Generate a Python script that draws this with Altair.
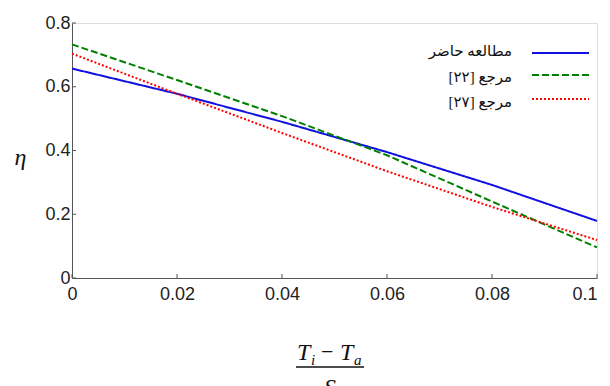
import altair as alt
import pandas as pd

# ---- data ----
x_vals = [0.0, 0.02, 0.04, 0.06, 0.08, 0.1]
present = [0.657, 0.578, 0.490, 0.395, 0.292, 0.179]   # مطالعه حاضر
ref22 = [0.733, 0.621, 0.508, 0.385, 0.240, 0.096]     # مرجع [۲۲]
ref27 = [0.704, 0.578, 0.455, 0.335, 0.223, 0.119]     # مرجع [۲۷]

series_names = ["مطالعه حاضر", "مرجع [۲۲]", "مرجع [۲۷]"]
series_colors = ["#1010e0", "#008000", "#ff0000"]
series_dash = [[1, 0], [7, 3], [2, 2]]

x_ticks = [0, 0.02, 0.04, 0.06, 0.08, 0.1]
y_ticks = [0, 0.2, 0.4, 0.6, 0.8]

W, H = 525, 255

rows = []
for name, ys in zip(series_names, [present, ref22, ref27]):
    for x, y in zip(x_vals, ys):
        rows.append({"x": x, "y": y, "s": name})
df = pd.DataFrame(rows)

xs = alt.Scale(domain=[0, 0.1], nice=False)
ys_ = alt.Scale(domain=[0, 0.8], nice=False)

base = alt.Chart(df)

x_axis = alt.Axis(
    values=x_ticks, format=".2~f", title=None, grid=False,
    tickSize=0, labelPadding=7, labelFontSize=18,
    labelFont="Liberation Sans", labelColor="#222",
    domainColor="#555", labelFlush=False,
    labelAlign={"condition": {"test": "datum.value >= 0.099", "value": "right"},
                "value": "center"},
)
y_axis = alt.Axis(
    values=y_ticks, format=".1~f", grid=False,
    tickSize=0, labelPadding=2, labelFontSize=18,
    labelFont="Liberation Sans", labelColor="#222",
    domainColor="#555", labelFlush=False,
    title="η", titleAngle=0, titleFont="Liberation Serif",
    titleFontStyle="italic", titleFontWeight="normal",
    titleFontSize=24, titleX=-52, titleY=134,
    titleAlign="center", titleBaseline="middle", titleColor="#111",
)

line_layers = []
for name, col, dash in zip(series_names, series_colors, series_dash):
    line_layers.append(
        base.transform_filter(alt.datum.s == name)
        .mark_line(color=col, strokeWidth=2, strokeDash=dash)
        .encode(
            x=alt.X("x:Q", scale=xs, axis=x_axis),
            y=alt.Y("y:Q", scale=ys_, axis=y_axis),
        )
    )

# inward ticks
xt = alt.Chart(pd.DataFrame({"t": x_ticks})).mark_rule(color="#555").encode(
    x=alt.X("t:Q", scale=xs), y=alt.value(H), y2=alt.value(H - 4))
yt = alt.Chart(pd.DataFrame({"t": y_ticks})).mark_rule(color="#555").encode(
    y=alt.Y("t:Q", scale=ys_), x=alt.value(0), x2=alt.value(4))

one = pd.DataFrame({"a": [0]})

# manual legend
legend_layers = []
legend_text_y = [28, 54, 79]
legend_line_y = [30, 52, 76]
for name, col, dash, ty, ly in zip(series_names, series_colors, series_dash,
                                   legend_text_y, legend_line_y):
    legend_layers.append(
        alt.Chart(one).mark_text(align="right", baseline="middle", fontSize=15,
                                 font="Liberation Serif, DejaVu Sans", color="#111")
        .encode(x=alt.value(440), y=alt.value(ty), text=alt.value(name)))
    legend_layers.append(
        alt.Chart(one).mark_rule(color=col, strokeWidth=2, strokeDash=dash)
        .encode(x=alt.value(460), x2=alt.value(517), y=alt.value(ly)))

# x-axis title as a fraction
def txt(t, x, y, size, base="alphabetic", align="left"):
    return alt.Chart(one).mark_text(align=align, baseline=base, fontSize=size,
                                    font="Liberation Serif", fontStyle="italic",
                                    color="#111").encode(
        x=alt.value(x), y=alt.value(y), text=alt.value(t))

title_layers = [
    txt("T", 225, 337, 24),
    txt("i", 239, 342, 15),
    alt.Chart(one).mark_text(align="left", baseline="alphabetic", fontSize=22,
                             font="Liberation Serif", color="#111").encode(
        x=alt.value(249), y=alt.value(336), text=alt.value("−")),
    txt("T", 268, 337, 24),
    txt("a", 282, 342, 15),
    alt.Chart(one).mark_rule(color="#111", strokeWidth=1.5).encode(
        x=alt.value(224), x2=alt.value(292), y=alt.value(344)),
    txt("S", 258, 353, 24, base="top", align="center"),
]

chart = alt.layer(*line_layers, xt, yt, *legend_layers, *title_layers).properties(
    width=W, height=H,
    autosize=alt.AutoSizeParams(type="none"),
    padding={"left": 64, "top": 15, "right": 5, "bottom": 110},
).configure_view(stroke=None).configure(background="white")

chart.save("out.html", embed_options={"renderer": "svg", "actions": False})
